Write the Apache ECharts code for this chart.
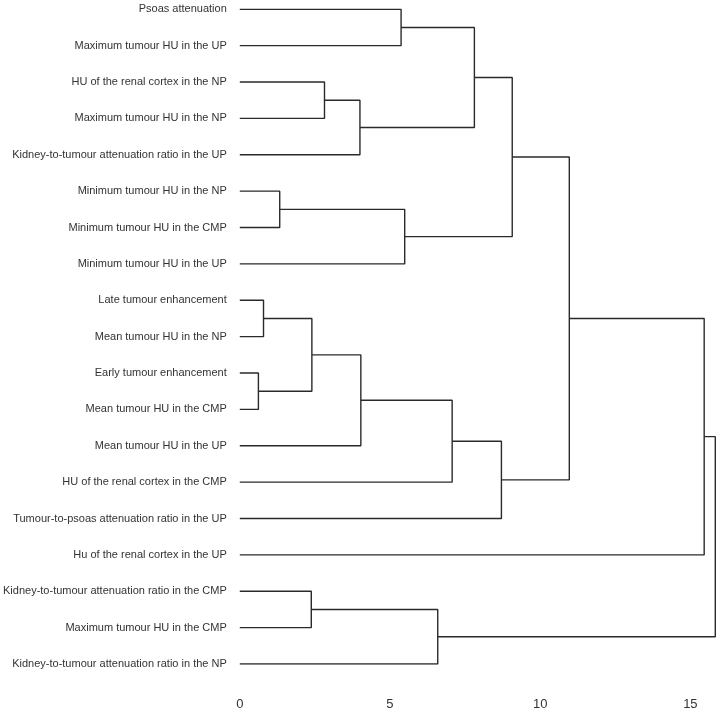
<!DOCTYPE html>
<html>
<head>
<meta charset="utf-8">
<script src="https://cdn.jsdelivr.net/npm/echarts@6/dist/echarts.min.js"></script>
<style>
html,body{margin:0;padding:0;background:#fff;}
#chart{width:718px;height:716px;}
</style>
</head>
<body>
<div id="chart"></div>
<script>
// Leaves (top to bottom)
const leaves = [
  'Psoas attenuation',
  'Maximum tumour HU in the UP',
  'HU of the renal cortex in the NP',
  'Maximum tumour HU in the NP',
  'Kidney-to-tumour attenuation ratio in the UP',
  'Minimum tumour HU in the NP',
  'Minimum tumour HU in the CMP',
  'Minimum tumour HU in the UP',
  'Late tumour enhancement',
  'Mean tumour HU in the NP',
  'Early tumour enhancement',
  'Mean tumour HU in the CMP',
  'Mean tumour HU in the UP',
  'HU of the renal cortex in the CMP',
  'Tumour-to-psoas attenuation ratio in the UP',
  'Hu of the renal cortex in the UP',
  'Kidney-to-tumour attenuation ratio in the CMP',
  'Maximum tumour HU in the CMP',
  'Kidney-to-tumour attenuation ratio in the NP'
];
// Merges: 'L#' = leaf index, 'M#' = earlier merge (1-based)
const mergeLeft   = ['L0','L2','M2','M1','L5','M5','M4','L8','L10','M8','M10','M11','M12','M7','M14','L16','M16','M15'];
const mergeRight  = ['L1','L3','L4','M3','L6','L7','M6','L9','L11','M9','L12','L13','L14','M13','L15','L17','L18','M17'];
const mergeHeight = [5.37,2.82,4.00,7.81,1.33,5.49,9.07,0.79,0.62,2.40,4.03,7.07,8.71,10.97,15.46,2.38,6.59,15.83];
const xTicks = [0, 5, 10, 15];

const nodes = [];
function pos(ref){
  if (ref[0] === 'L') return {x: 0, y: +ref.slice(1)};
  return nodes[+ref.slice(1) - 1];
}
const series = [];
for (let i = 0; i < mergeHeight.length; i++){
  const a = pos(mergeLeft[i]), b = pos(mergeRight[i]), h = mergeHeight[i];
  nodes.push({x: h, y: (a.y + b.y) / 2});
  series.push({
    type: 'line', symbol: 'none', silent: true, animation: false,
    lineStyle: {color: '#2a2a2a', width: 1.4},
    data: [[a.x, a.y], [h, a.y], [h, b.y], [b.x, b.y]]
  });
}

const chart = echarts.init(document.getElementById('chart'), null, {renderer: 'canvas'});
chart.setOption({
  backgroundColor: '#fff',
  animation: false,
  grid: {left: 233.5, right: 2.7, top: 9.3, bottom: 52},
  xAxis: {
    type: 'value', min: 0, max: 15.83, interval: 5,
    axisLine: {show: false}, axisTick: {show: false}, splitLine: {show: false},
    axisLabel: {
      showMaxLabel: false, margin: 34, color: '#333', fontSize: 13,
      fontFamily: 'Liberation Sans, Arial, sans-serif',
      formatter: v => xTicks.includes(v) ? String(v) : ''
    }
  },
  yAxis: {
    type: 'value', min: 0, max: leaves.length - 1, interval: 1, inverse: true,
    axisLine: {show: false}, axisTick: {show: false}, splitLine: {show: false},
    axisLabel: {
      margin: 13, color: '#333', fontSize: 11,
      fontFamily: 'Liberation Sans, Arial, sans-serif',
      formatter: v => leaves[v] || ''
    }
  },
  series: series
});
</script>
</body>
</html>
